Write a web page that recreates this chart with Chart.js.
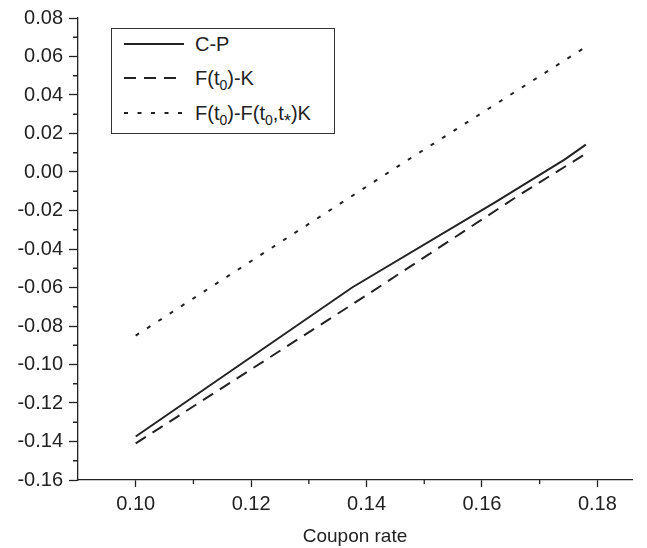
<!DOCTYPE html>
<html>
<head>
<meta charset="utf-8">
<title>Coupon rate</title>
<script src="https://cdn.jsdelivr.net/npm/chart.js@4.4.1/dist/chart.umd.min.js"></script>
<style>
    html, body { margin: 0; padding: 0; background: #fff; }
    #wrap { position: relative; width: 647px; height: 548px; }
    #legend {
        position: absolute; left: 111px; top: 28px; width: 222px; height: 104px;
        border: 1px solid #333; background: #fff;
        font-family: 'Liberation Sans', Arial, sans-serif; font-size: 20px; color: #222;
    }
    .row { position: absolute; left: 12px; height: 26px; display: flex; align-items: center; white-space: nowrap; }
    .row span { margin-left: 11px; }
    sub { font-size: 14px; vertical-align: -5px; line-height: 0; }
    sub.star { font-size: 18px; vertical-align: -7px; }
</style>
</head>
<body>
<div id="wrap">
    <canvas id="chart" width="647" height="548"></canvas>
    <div id="legend"></div>
</div>
<script>
// values
const cpRate   = [0.100, 0.1375, 0.1624, 0.1743, 0.178];
const cpValues = [-0.1374, -0.060, -0.0155, 0.0064, 0.0142];

const fkRate   = [0.100, 0.140, 0.1669, 0.178];
const fkValues = [-0.141, -0.064, -0.0111, 0.0095];

const fwdRate   = [0.100, 0.1465, 0.178];
const fwdValues = [-0.085, 0.005, 0.065];

const seriesNames  = ['C-P', 'F(t0)-K', 'F(t0)-F(t0,t*)K'];
const legendLabels = ['C-P', 'F(t<sub>0</sub>)-K', 'F(t<sub>0</sub>)-F(t<sub>0</sub>,t<sub class="star">*</sub>)K'];
const dashStyles   = [[], [12, 8], [4, 9.5]];

const xTickValues = [0.09, 0.10, 0.11, 0.12, 0.13, 0.14, 0.15, 0.16, 0.17, 0.18];
const yTickValues = [-0.16, -0.15, -0.14, -0.13, -0.12, -0.11, -0.10, -0.09, -0.08, -0.07, -0.06, -0.05,
                     -0.04, -0.03, -0.02, -0.01, 0, 0.01, 0.02, 0.03, 0.04, 0.05, 0.06, 0.07, 0.08];

const ink = '#222';
const isMajor = v => Math.round(v * 100) % 2 === 0;

function points(xs, ys) {
    return xs.map((x, i) => ({ x: x, y: ys[i] }));
}

// short minor ticks drawn from the scales
const minorTicks = {
    id: 'minorTicks',
    afterDraw(chart) {
        const c = chart.ctx;
        const xs = chart.scales.x, ys = chart.scales.y;
        c.save();
        c.strokeStyle = ink;
        c.lineWidth = 1.3;
        c.beginPath();
        xTickValues.forEach(v => {
            if (isMajor(v) || v <= xs.min) return;
            const px = xs.getPixelForValue(v);
            c.moveTo(px, xs.top);
            c.lineTo(px, xs.top + 4);
        });
        yTickValues.forEach(v => {
            if (isMajor(v)) return;
            const py = ys.getPixelForValue(v);
            c.moveTo(ys.right, py);
            c.lineTo(ys.right - 5, py);
        });
        c.stroke();
        c.restore();
    }
};

Chart.defaults.font.family = "'Liberation Sans', Arial, sans-serif";
Chart.defaults.font.size = 20;
Chart.defaults.color = ink;

const datasets = [
    { data: points(cpRate, cpValues) },
    { data: points(fkRate, fkValues) },
    { data: points(fwdRate, fwdValues) }
].map((d, i) => Object.assign(d, {
    label: seriesNames[i],
    borderColor: ink,
    borderWidth: 2,
    borderDash: dashStyles[i],
    pointRadius: 0,
    fill: false,
    tension: 0
}));

new Chart(document.getElementById('chart'), {
    type: 'line',
    data: { datasets: datasets },
    options: {
        responsive: false,
        animation: false,
        layout: { padding: { top: 14, right: 15, left: 0, bottom: 0 } },
        plugins: { legend: { display: false }, tooltip: { enabled: false } },
        scales: {
            x: {
                type: 'linear',
                min: 0.09,
                max: 0.186,
                afterBuildTicks: s => { s.ticks = xTickValues.map(v => ({ value: v })); },
                afterFit: s => { s.height = 68; },
                border: { display: true, color: ink, width: 1.3 },
                grid: {
                    drawOnChartArea: false,
                    tickLength: 7,
                    tickWidth: 1.3,
                    tickColor: c => (isMajor(c.tick.value) && c.tick.value > 0.095) ? ink : 'rgba(0,0,0,0)'
                },
                ticks: {
                    padding: 5,
                    maxRotation: 0,
                    autoSkip: false,
                    callback: v => (isMajor(v) && v > 0.095) ? v.toFixed(2) : ''
                },
                title: {
                    display: true,
                    text: 'Coupon rate',
                    color: ink,
                    font: { size: 19 },
                    padding: { top: 0, bottom: 0 }
                }
            },
            y: {
                min: -0.16,
                max: 0.08,
                afterBuildTicks: s => { s.ticks = yTickValues.map(v => ({ value: v })); },
                afterFit: s => { s.width = 78; },
                border: { display: true, color: ink, width: 1.3 },
                grid: {
                    drawOnChartArea: false,
                    tickLength: 9,
                    tickWidth: 1.3,
                    tickColor: c => isMajor(c.tick.value) ? ink : 'rgba(0,0,0,0)'
                },
                ticks: {
                    padding: 6,
                    autoSkip: false,
                    callback: v => isMajor(v) ? v.toFixed(2) : ''
                }
            }
        }
    },
    plugins: [minorTicks]
});

// legend box, rows built from the series
const legend = document.getElementById('legend');
const rowTops = [2, 36, 71];
datasets.forEach((d, i) => {
    const row = document.createElement('div');
    row.className = 'row';
    row.style.top = rowTops[i] + 'px';
    const dash = d.borderDash.length ? ' stroke-dasharray="' + d.borderDash.join(' ') + '"' : '';
    row.innerHTML = '<svg width="60" height="4"><line x1="0" y1="2" x2="60" y2="2" stroke="' + ink +
        '" stroke-width="2"' + dash + '/></svg><span>' + legendLabels[i] + '</span>';
    legend.appendChild(row);
});
</script>
</body>
</html>
